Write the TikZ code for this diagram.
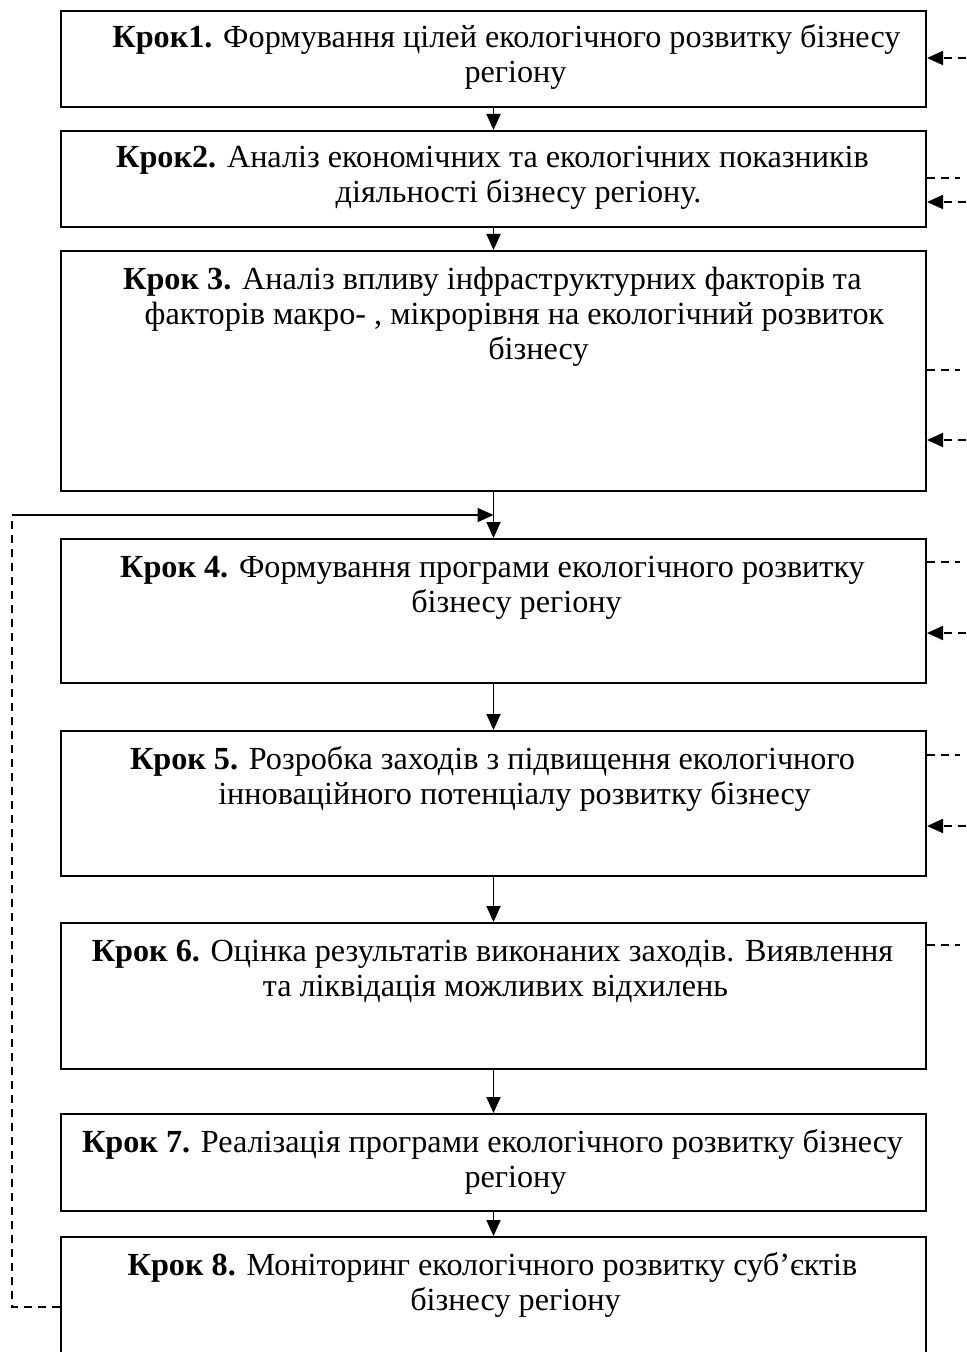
\documentclass[tikz,border=0pt]{standalone}
\usepackage{fontspec}
\setmainfont{Liberation Serif}
\usetikzlibrary{arrows.meta}
\begin{document}
\begin{tikzpicture}[x=0.5pt,y=-0.5pt,
 box/.style={draw, line width=1pt, inner sep=0pt, minimum width=432.5pt, anchor=north west},
 txt/.style={align=center, inner sep=0pt, anchor=base, font=\fontsize{16.1pt}{17.5pt}\selectfont},
 flow/.style={line width=0.9pt, -{Triangle[length=8pt,width=7pt]}},
 fb/.style={line width=0.9pt, dash pattern=on 4pt off 3pt},
 fbin/.style={fb, -{Triangle[length=8pt,width=7pt]}}]
\useasboundingbox (0,0) rectangle (966,1352);
% boxes
\node[box, minimum height=48pt] (b1) at (60,10) {};
\node[box, minimum height=48pt] (b2) at (60,130) {};
\node[box, minimum height=120pt] (b3) at (60,250) {};
\node[box, minimum height=72pt] (b4) at (60,538) {};
\node[box, minimum height=72.5pt] (b5) at (60,730) {};
\node[box, minimum height=73pt] (b6) at (60,922) {};
\node[box, minimum height=48.5pt] (b7) at (60,1113) {};
\node[box, minimum height=62pt] (b8) at (60,1236) {};
% texts (anchor base = baseline of the last line)
\node[txt] (t1) at (492.5,83) {\hspace*{14pt}\textbf{Крок1.} Формування цілей екологічного розвитку бізнесу\\\hspace*{23pt}регіону};
\node[txt] (t2) at (492.5,203) {\textbf{Крок2.} Аналіз економічних та екологічних показників\\\hspace*{26pt}діяльності бізнесу регіону.};
\node[txt] (t3) at (492.5,360) {\textbf{Крок 3.} Аналіз впливу інфраструктурних факторів та\\\hspace*{22pt}факторів макро- , мікрорівня на екологічний розвиток\\\hspace*{46pt}бізнесу};
\node[txt] (t4) at (492.5,612) {\textbf{Крок 4.} Формування програми екологічного розвитку\\\hspace*{24pt}бізнесу регіону};
\node[txt] (t5) at (492.5,804) {\textbf{Крок 5.} Розробка заходів з підвищення екологічного\\\hspace*{22pt}інноваційного потенціалу розвитку бізнесу};
\node[txt] (t6) at (492.5,996) {\textbf{Крок 6.} Оцінка результатів виконаних заходів. Виявлення\\\hspace*{3pt}та ліквідація можливих відхилень};
\node[txt] (t7) at (492.5,1187) {\textbf{Крок 7.} Реалізація програми екологічного розвитку бізнесу\\\hspace*{23pt}регіону};
\node[txt] (t8) at (492.5,1310) {\textbf{Крок 8.} Моніторинг екологічного розвитку суб’єктів\\\hspace*{23pt}бізнесу регіону};
% vertical flow
\draw[flow] (b1.south) -- (b2.north);
\draw[flow] (b2.south) -- (b3.north);
\draw[flow] (b3.south) -- (b4.north);
\draw[flow] (b4.south) -- (b5.north);
\draw[flow] (b5.south) -- (b6.north);
\draw[flow] (b6.south) -- (b7.north);
\draw[flow] (b7.south) -- (b8.north);
% right side dashed
\coordinate (i1) at (966,58);
\coordinate (o2) at (960,178);
\coordinate (i2) at (966,202);
\coordinate (o3) at (960,370);
\coordinate (i3) at (966,440);
\coordinate (o4) at (960,562);
\coordinate (i4) at (966,633);
\coordinate (o5) at (960,755);
\coordinate (i5) at (966,826);
\coordinate (o6) at (960,945);
\draw[fbin] (i1) -- (b1.east |- i1);
\draw[fb] (b2.east |- o2) -- (o2);
\draw[fbin] (i2) -- (b2.east |- i2);
\draw[fb] (b3.east |- o3) -- (o3);
\draw[fbin] (i3) -- (b3.east |- i3);
\draw[fb] (b4.east |- o4) -- (o4);
\draw[fbin] (i4) -- (b4.east |- i4);
\draw[fb] (b5.east |- o5) -- (o5);
\draw[fbin] (i5) -- (b5.east |- i5);
\draw[fb] (b6.east |- o6) -- (o6);
% left feedback
\coordinate (c1) at (12,1307);
\coordinate (c2) at (12,515);
\coordinate (m) at (b3.south |- c2);
\draw[fb] (b8.west |- c1) -- (c1) -- (c2);
\draw[flow] (c2) -- (m);
\end{tikzpicture}
\end{document}
